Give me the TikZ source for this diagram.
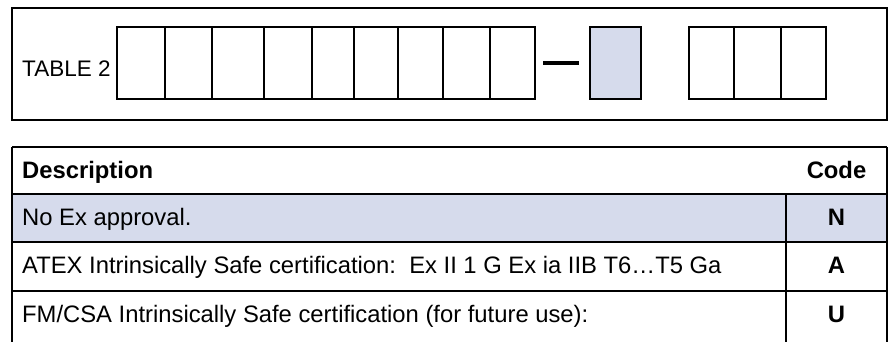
\documentclass[tikz,border=0pt]{standalone}
\usepackage{fontspec}
\setmainfont{Liberation Sans}
\usetikzlibrary{positioning}
\definecolor{selCol}{RGB}{214, 219, 236}
\tikzset{myFrame/.style={line width=2.7pt,color=black}}
\tikzset{myCell/.style={line width=2pt,color=black}}
\tikzset{myRule/.style={line width=2.4pt,color=black}}
\tikzset{myText/.style={inner sep=0pt,font=\fontsize{23.8}{28}\selectfont}}
\tikzset{myCode/.style={myText,anchor=base,font=\fontsize{23.8}{28}\selectfont\bfseries}}

\begin{document}
\begin{tikzpicture}[x=1pt,y=-1pt]
	\useasboundingbox (0,0) rectangle (889,341);
	% order code boxes
	\draw[myFrame](12,8) rectangle (887,120);
	\node[myText, anchor=base west, font=\fontsize{22.5}{27}\selectfont] (title) at (22,76) {TABLE 2};
	\foreach \a/\b in {117/165,165/212,212/264,264/312,312/354,354/398,398/443,443/490,490/535}
		\draw[myCell](\a,27) rectangle (\b,99);
	\draw[line width=4.5pt](543,63)--(579,63);
	\draw[myCell, fill=selCol](590,27) rectangle (641,99);
	\foreach \a/\b in {689/734,734/781,781/826}
		\draw[myCell](\a,27) rectangle (\b,99);
	
	% table
	\fill[selCol](12,194) rectangle (887,242);
	\foreach \y in {147,194,242,291}
		\draw[myRule](12,\y)--(887,\y);
	\draw[myRule](12,147)--(12,345);
	\draw[myRule](887,147)--(887,345);
	\draw[myRule](786,194)--(786,345);
	
	\node[myText, anchor=base west, font=\fontsize{23.8}{28}\selectfont\bfseries] (descHead) at (22,178.5) {Description};
	\node[myCode] (codeHead) at (836.5,178.5) {Code};
	\node[myText, anchor=base west] (desc1) at (22,225.5) {No Ex approval.};
	\node[myCode] (code1) at (836.5,225.5) {N};
	\node[myText, anchor=base west] (desc2) at (22,273.5) {ATEX Intrinsically Safe certification:\ \ Ex II 1 G Ex ia IIB T6…T5 Ga};
	\node[myCode] (code2) at (836.5,273.5) {A};
	\node[myText, anchor=base west] (desc3) at (22,322.5) {FM/CSA Intrinsically Safe certification (for future use):};
	\node[myCode] (code3) at (836.5,322.5) {U};

\end{tikzpicture}
\end{document}
